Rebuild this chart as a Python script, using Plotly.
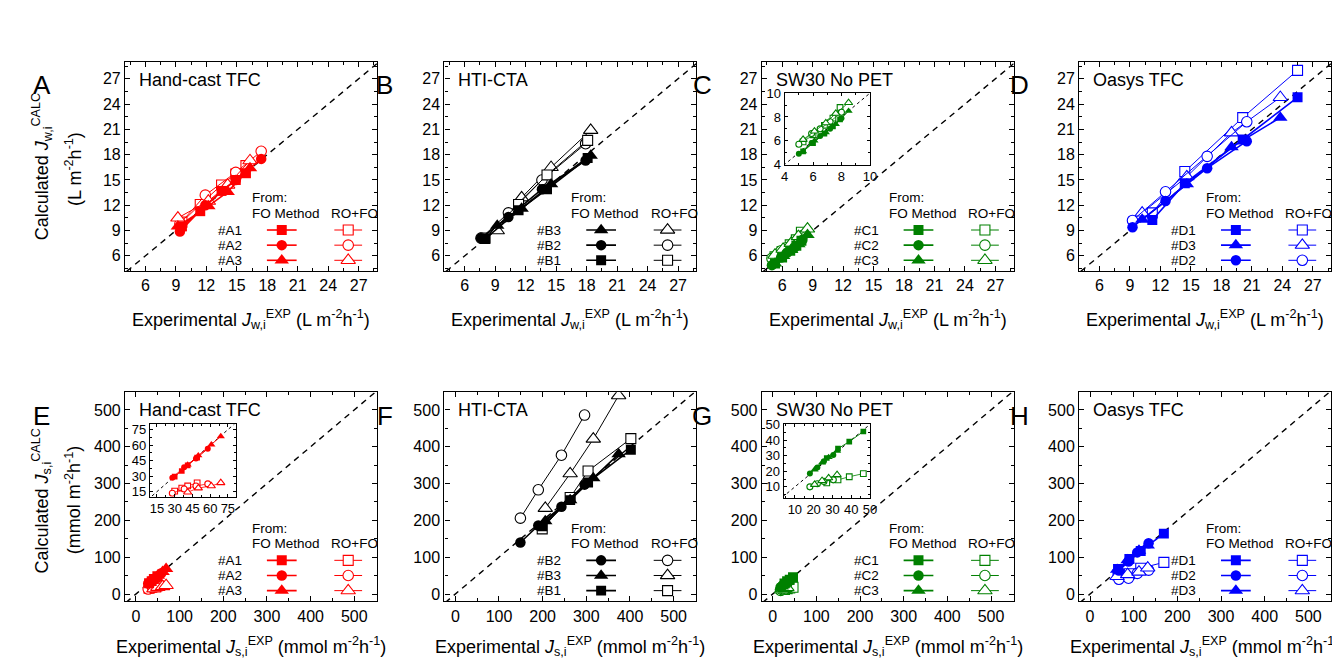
import plotly.graph_objects as go

W, H = 1340, 661
FONT = "Liberation Sans, Arial, sans-serif"

RED, BLK, GRN, BLU = "#ff0000", "#000000", "#008000", "#0000ff"

# ---------------- data ----------------
# Top row: water flux (L m-2 h-1)
A1_exp = [9.6, 11.4, 13.5, 14.9, 15.9]
A1_fo = [9.5, 11.3, 13.7, 15.0, 15.8]
A1_ro = [10.0, 12.1, 14.4, 15.7, 16.7]
A2_exp = [9.4, 11.9, 14.9, 17.4]
A2_fo = [8.9, 12.0, 15.0, 17.5]
A2_ro = [9.8, 13.2, 15.9, 18.4]
A3_exp = [9.2, 12.2, 14.1, 16.3]
A3_fo = [9.5, 11.9, 13.6, 16.4]
A3_ro = [10.5, 12.5, 14.4, 17.3]

B1_exp = [8.0, 11.3, 14.1, 18.1]
B1_fo = [8.0, 11.4, 13.9, 17.6]
B1_ro = [8.1, 12.1, 15.6, 19.7]
B2_exp = [7.6, 10.3, 13.6, 17.9]
B2_fo = [8.1, 10.6, 13.9, 17.3]
B2_ro = [8.1, 11.1, 15.0, 19.3]
B3_exp = [9.2, 11.6, 14.5, 18.4]
B3_fo = [9.6, 11.6, 14.5, 17.9]
B3_ro = [9.0, 12.9, 16.5, 20.9]

C1_exp = [5.3, 6.0, 6.8, 7.4, 7.9]
C1_fo = [5.1, 5.8, 6.6, 7.2, 7.8]
C1_ro = [5.9, 6.5, 7.3, 7.9, 8.8]
C2_exp = [5.0, 5.9, 6.5, 7.2, 8.0]
C2_fo = [4.9, 5.8, 6.4, 7.0, 7.9]
C2_ro = [5.7, 6.6, 7.0, 7.6, 8.4]
C3_exp = [5.3, 6.1, 6.9, 7.6, 8.5]
C3_fo = [5.1, 6.0, 6.7, 7.4, 8.5]
C3_ro = [6.1, 6.8, 7.5, 8.3, 9.2]

D1_exp = [11.2, 14.4, 20.1, 25.5]
D1_fo = [10.25, 14.6, 19.8, 24.8]
D1_ro = [11.1, 16.0, 22.4, 28.0]
D2_exp = [9.25, 12.5, 16.6, 20.5]
D2_fo = [9.4, 12.5, 16.4, 19.6]
D2_ro = [10.2, 13.6, 17.8, 21.9]
D3_exp = [10.2, 14.6, 19.0, 23.8]
D3_fo = [10.3, 14.5, 18.9, 22.4]
D3_ro = [11.1, 15.4, 20.6, 24.8]

# Bottom row: salt flux (mmol m-2 h-1)
EA1_exp = [30, 36, 41, 49]
EA1_fo = [29.5, 35, 40.5, 48]
EA1_ro = [15.5, 18.5, 20.5, 23.5]
EA2_exp = [28, 38, 48, 58]
EA2_fo = [28.5, 38.5, 47, 56.5]
EA2_ro = [13.5, 17.5, 20.5, 22.5]
EA3_exp = [41, 50, 61, 69]
EA3_fo = [41, 50, 60.5, 68.5]
EA3_ro = [14.5, 18.5, 20.5, 23.5]

FB1_exp = [199, 263, 304, 402]
FB1_fo = [184, 255, 303, 392]
FB1_ro = [177, 262, 334, 422]
FB2_exp = [149, 190, 243, 296]
FB2_fo = [140, 186, 237, 297]
FB2_ro = [206, 283, 377, 486]
FB3_exp = [206, 263, 316, 374]
FB3_fo = [198, 255, 315, 380]
FB3_ro = [233, 327, 421, 539]

GC1_exp = [27, 33, 39, 46.5]
GC1_fo = [28.5, 34.5, 39, 45.5]
GC1_ro = [12.5, 14.5, 16.5, 18.5]
GC2_exp = [18, 22, 25.5, 30.5]
GC2_fo = [18.5, 22.5, 26.5, 30.5]
GC2_ro = [10, 12, 13.5, 14.5]
GC3_exp = [20.5, 24.5, 28, 32.5]
GC3_fo = [21, 25.5, 29, 33]
GC3_ro = [11.5, 14, 15.7, 17.8]

HD1_exp = [64, 90, 116, 169]
HD1_fo = [68, 95, 117, 164]
HD1_ro = [52, 55, 70, 86]
HD2_exp = [66, 88, 108, 134]
HD2_fo = [64, 88, 113, 138]
HD2_ro = [40, 43, 56, 65]
HD3_exp = [62, 86, 112, 132]
HD3_fo = [66, 92, 118, 132]
HD3_ro = [48, 53, 60, 71]

TITLES = ["Hand-cast TFC", "HTI-CTA", "SW30 No PET", "Oasys TFC"]
LETTERS_TOP = ["A", "B", "C", "D"]
LETTERS_BOT = ["E", "F", "G", "H"]

SQ, CI, TR = "square", "circle", "triangle-up"
SIZE_SCALE = {SQ: 0.95, CI: 1.0, TR: 1.2}

panels = [
    dict(color=RED, series=[("#A1", SQ, A1_exp, A1_fo, A1_ro), ("#A2", CI, A2_exp, A2_fo, A2_ro), ("#A3", TR, A3_exp, A3_fo, A3_ro)]),
    dict(color=BLK, series=[("#B3", TR, B3_exp, B3_fo, B3_ro), ("#B2", CI, B2_exp, B2_fo, B2_ro), ("#B1", SQ, B1_exp, B1_fo, B1_ro)]),
    dict(color=GRN, series=[("#C1", SQ, C1_exp, C1_fo, C1_ro), ("#C2", CI, C2_exp, C2_fo, C2_ro), ("#C3", TR, C3_exp, C3_fo, C3_ro)]),
    dict(color=BLU, series=[("#D1", SQ, D1_exp, D1_fo, D1_ro), ("#D3", TR, D3_exp, D3_fo, D3_ro), ("#D2", CI, D2_exp, D2_fo, D2_ro)]),
    dict(color=RED, series=[("#A1", SQ, EA1_exp, EA1_fo, EA1_ro), ("#A2", CI, EA2_exp, EA2_fo, EA2_ro), ("#A3", TR, EA3_exp, EA3_fo, EA3_ro)]),
    dict(color=BLK, series=[("#B2", CI, FB2_exp, FB2_fo, FB2_ro), ("#B3", TR, FB3_exp, FB3_fo, FB3_ro), ("#B1", SQ, FB1_exp, FB1_fo, FB1_ro)]),
    dict(color=GRN, series=[("#C1", SQ, GC1_exp, GC1_fo, GC1_ro), ("#C2", CI, GC2_exp, GC2_fo, GC2_ro), ("#C3", TR, GC3_exp, GC3_fo, GC3_ro)]),
    dict(color=BLU, series=[("#D1", SQ, HD1_exp, HD1_fo, HD1_ro), ("#D2", CI, HD2_exp, HD2_fo, HD2_ro), ("#D3", TR, HD3_exp, HD3_fo, HD3_ro)]),
]

# insets: (panel index, box px, x range, y range, dtick, minor dtick)
INSETS = [
    (2, (779, 80, 865, 153), [4, 10], [4, 10], 2, 1),
    (4, (139, 419, 226, 493), [9, 82], [10, 80], 15, 7.5),
    (6, (778, 419, 865, 494), [4, 50], [3, 50], 10, 5),
]

# ---------------- layout helpers ----------------
BOX_LEFT = [114, 436, 756, 1076]
BOX_W = 254
ROW_TOP = [48, 386]
BOX_H = 214

TOP_XR, TOP_YR = [4, 28.8], [4.2, 29]
BOT_XR, BOT_YR = [-25, 552], [-20, 548]


def fx(px):
    return px / W


def fy(py):
    return 1 - py / H


fig = go.Figure()
layout = {}
annotations = []


def axis_style(rng, dtick, minor_dtick, size=16, ticklen=5, mlen=3):
    return dict(
        range=rng, dtick=dtick, tick0=0, showline=True, linecolor="black", linewidth=1.3,
        mirror="allticks", ticks="inside", ticklen=ticklen, tickwidth=1.2, tickcolor="black",
        showgrid=False, zeroline=False, fixedrange=True,
        tickfont=dict(size=size, family=FONT, color="black"),
        minor=dict(ticks="inside", ticklen=mlen, tickwidth=1, tickcolor="black", dtick=minor_dtick, showgrid=False),
    )


def set_axes(idx, xdom, ydom, xstyle, ystyle):
    xs = dict(xstyle, domain=xdom, anchor="y%d" % idx)
    ys = dict(ystyle, domain=ydom, anchor="x%d" % idx)
    layout["xaxis" if idx == 1 else "xaxis%d" % idx] = xs
    layout["yaxis" if idx == 1 else "yaxis%d" % idx] = ys


def ref(idx):
    return ("x" if idx == 1 else "x%d" % idx), ("y" if idx == 1 else "y%d" % idx)


def add_series(idx, color, series, msize, fo_w, ro_w, diag_range, diag_dash, diag_w):
    xr, yr = ref(idx)
    fig.add_trace(go.Scatter(x=diag_range, y=diag_range, mode="lines", xaxis=xr, yaxis=yr,
                             line=dict(color="black", width=diag_w, dash=diag_dash), hoverinfo="skip"))
    for name, sym, ex, fo, ro in series:
        fig.add_trace(go.Scatter(x=ex, y=ro, mode="lines+markers", xaxis=xr, yaxis=yr,
                                 line=dict(color=color, width=ro_w),
                                 marker=dict(symbol=sym, size=msize * SIZE_SCALE[sym], color="white",
                                             line=dict(color=color, width=1.1)),
                                 name=name + " RO+FO"))
    for name, sym, ex, fo, ro in series:
        fig.add_trace(go.Scatter(x=ex, y=fo, mode="lines+markers", xaxis=xr, yaxis=yr,
                                 line=dict(color=color, width=fo_w),
                                 marker=dict(symbol=sym, size=msize * SIZE_SCALE[sym], color=color,
                                             line=dict(color=color, width=0)),
                                 name=name + " FO"))


for k, p in enumerate(panels):
    row, col = divmod(k, 4)
    bl = BOX_LEFT[col]
    bt = ROW_TOP[row]
    bb = bt + BOX_H
    xdom = [fx(bl), fx(bl + BOX_W)]
    ydom = [fy(bb), fy(bt)]
    idx = k + 1
    if row == 0:
        xs = axis_style(TOP_XR, 3, 1.5)
        ys = axis_style(TOP_YR, 3, 1.5)
        diag = [0, 40]
    else:
        xs = axis_style(BOT_XR, 100, 50)
        ys = axis_style(BOT_YR, 100, 50)
        diag = [-100, 700]
    set_axes(idx, xdom, ydom, xs, ys)
    add_series(idx, p["color"], p["series"], 10.5, 1.6, 1.0, diag, "6px,5px", 1.4)

    # title inside panel
    annotations.append(dict(text=TITLES[col], x=fx(bl + 12), y=fy(bt + 18), xref="paper", yref="paper",
                            xanchor="left", yanchor="middle", showarrow=False,
                            font=dict(size=18, family=FONT, color="black")))
    # panel letter
    letter = (LETTERS_TOP if row == 0 else LETTERS_BOT)[col]
    lx = 30 if col == 0 else bl - 60
    annotations.append(dict(text=letter, x=fx(lx), y=fy(bt + 24), xref="paper", yref="paper",
                            xanchor="center", yanchor="middle", showarrow=False,
                            font=dict(size=26, family=FONT, color="black")))
    # x title
    if row == 0:
        xt = "Experimental <i>J</i><sub>w,i</sub><sup>EXP</sup> (L m<sup>-2</sup>h<sup>-1</sup>)"
        ty = 312
    else:
        xt = "Experimental <i>J</i><sub>s,i</sub><sup>EXP</sup> (mmol m<sup>-2</sup>h<sup>-1</sup>)"
        ty = 646
    annotations.append(dict(text=xt, x=fx(bl + BOX_W / 2), y=fy(ty), xref="paper", yref="paper",
                            xanchor="center", yanchor="middle", showarrow=False,
                            font=dict(size=18, family=FONT, color="black")))

    # legend block (overlay axes in box fraction units)
    lidx = 12 + k
    set_axes(lidx, xdom, ydom,
             dict(range=[0, 1], visible=False, fixedrange=True),
             dict(range=[0, 1], visible=False, fixedrange=True))
    lxr, lyr = ref(lidx)

    def ux(off):
        return off / BOX_W

    def uy(off):
        return off / BOX_H

    LF = dict(size=13.5, family=FONT, color="black")
    annotations.append(dict(text="From:", x=fx(bl + 126), y=fy(bb - 75), xref="paper", yref="paper",
                            xanchor="left", yanchor="middle", showarrow=False, font=LF))
    annotations.append(dict(text="FO Method", x=fx(bl + 126), y=fy(bb - 59), xref="paper", yref="paper",
                            xanchor="left", yanchor="middle", showarrow=False, font=LF))
    annotations.append(dict(text="RO+FO", x=fx(bl + 206), y=fy(bb - 59), xref="paper", yref="paper",
                            xanchor="left", yanchor="middle", showarrow=False, font=LF))
    for r, (name, sym, ex, fo, ro) in enumerate(p["series"]):
        off = [42, 26.5, 11][r]
        annotations.append(dict(text=name, x=fx(bl + 120), y=fy(bb - off), xref="paper", yref="paper",
                                xanchor="right", yanchor="middle", showarrow=False, font=LF))
        fig.add_trace(go.Scatter(x=[ux(143), ux(173)], y=[uy(off)] * 2, mode="lines", xaxis=lxr, yaxis=lyr,
                                 line=dict(color=p["color"], width=1.6), hoverinfo="skip"))
        fig.add_trace(go.Scatter(x=[ux(158)], y=[uy(off)], mode="markers", xaxis=lxr, yaxis=lyr,
                                 marker=dict(symbol=sym, size=10.5 * SIZE_SCALE[sym], color=p["color"]),
                                 hoverinfo="skip"))
        fig.add_trace(go.Scatter(x=[ux(211), ux(239)], y=[uy(off)] * 2, mode="lines", xaxis=lxr, yaxis=lyr,
                                 line=dict(color=p["color"], width=1.0), hoverinfo="skip"))
        fig.add_trace(go.Scatter(x=[ux(225)], y=[uy(off)], mode="markers", xaxis=lxr, yaxis=lyr,
                                 marker=dict(symbol=sym, size=10.5 * SIZE_SCALE[sym], color="white",
                                             line=dict(color=p["color"], width=1.1)), hoverinfo="skip"))

# insets
for j, (pk, (x0, y0, x1, y1), xrng, yrng, dt, mdt) in enumerate(INSETS):
    idx = 9 + j
    xs = axis_style(xrng, dt, mdt, size=13, ticklen=3, mlen=2)
    ys = axis_style(yrng, dt, mdt, size=13, ticklen=3, mlen=2)
    xs["linewidth"] = 1
    ys["linewidth"] = 1
    set_axes(idx, [fx(x0), fx(x1)], [fy(y1), fy(y0)], xs, ys)
    p = panels[pk]
    add_series(idx, p["color"], p["series"], 6, 1.0, 0.8, [-100, 200], "3px,3px", 1.0)

# y-axis titles
annotations += [
    dict(text="Calculated <i>J</i><sub>w,i</sub><sup>CALC</sup>", x=fx(30), y=fy(155), textangle=-90),
    dict(text="(L m<sup>-2</sup>h<sup>-1</sup>)", x=fx(62), y=fy(157), textangle=-90),
    dict(text="Calculated <i>J</i><sub>s,i</sub><sup>CALC</sup>", x=fx(30), y=fy(497), textangle=-90),
    dict(text="(mmol m<sup>-2</sup>h<sup>-1</sup>)", x=fx(62), y=fy(496), textangle=-90),
]
for a in annotations[-4:]:
    a.update(xref="paper", yref="paper", xanchor="center", yanchor="middle", showarrow=False,
             font=dict(size=18, family=FONT, color="black"))

layout.update(
    width=W, height=H, margin=dict(l=0, r=0, t=0, b=0),
    paper_bgcolor="white", plot_bgcolor="rgba(0,0,0,0)", showlegend=False,
    annotations=annotations, font=dict(family=FONT, color="black"),
)
fig.update_layout(**layout)
fig.write_html("out.html")
